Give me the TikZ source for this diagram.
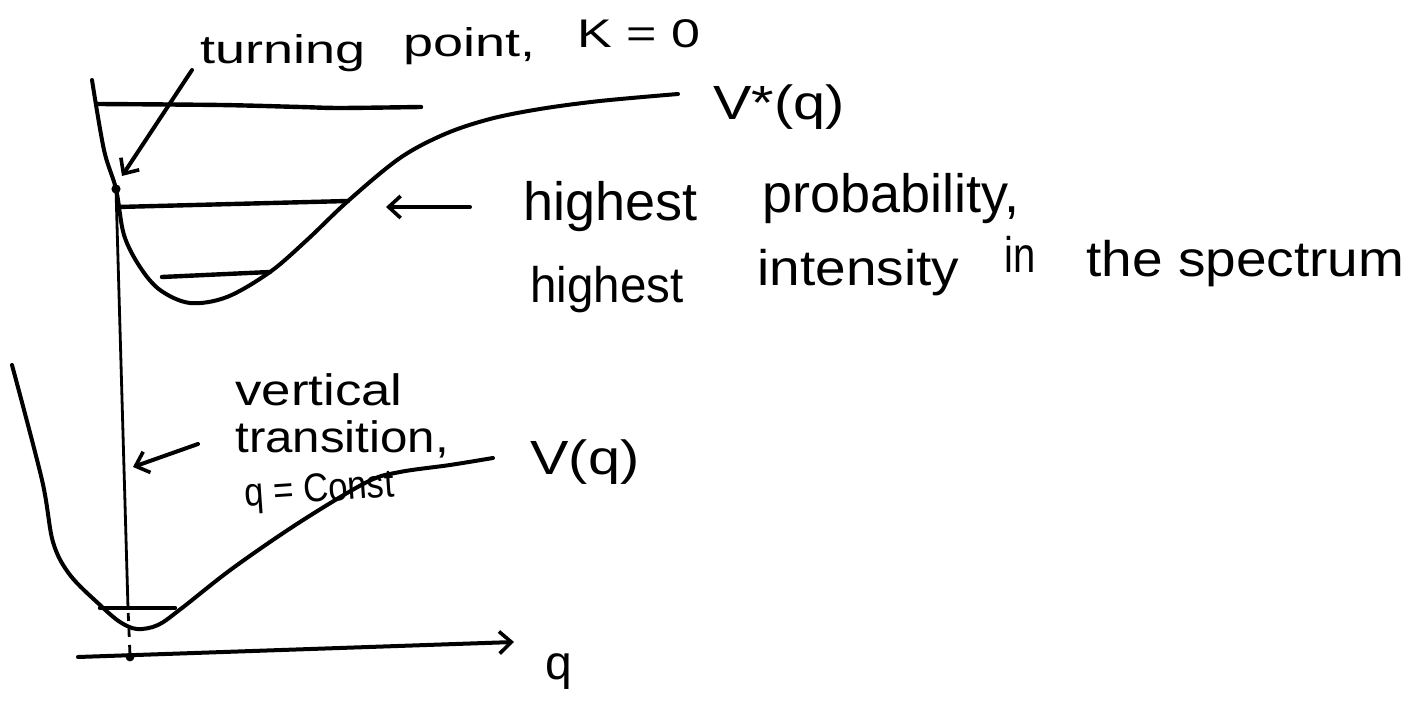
\documentclass[tikz,border=0pt]{standalone}
\usepackage{graphicx}
\usepackage{fontspec}
\setmainfont{Liberation Sans}
\usetikzlibrary{arrows.meta}
\newcommand{\hwx}[2]{\scalebox{#1}[1]{#2}}
\tikzset{
  curve/.style={line width=2pt, line cap=round, line join=round},
  lvl/.style={line width=2.2pt, line cap=round},
  thinline/.style={line width=1.4pt},
  barb/.style={line width=2pt, line cap=round, -{Straight Barb[length=6pt,width=11pt,line width=1.8pt]}},
  lbl/.style={inner sep=0pt, anchor=base west},
  fA/.style={font=\fontsize{20}{24}\selectfont},
  fB/.style={font=\fontsize{27}{32}\selectfont},
  fC/.style={font=\fontsize{25}{30}\selectfont},
  fD/.style={font=\fontsize{22}{26}\selectfont},
  fE/.style={font=\fontsize{20}{24}\selectfont},
  fV/.style={font=\fontsize{24}{28}\selectfont},
}
\begin{document}
\begin{tikzpicture}[x=0.5pt,y=-0.5pt]
\useasboundingbox (0,0) rectangle (1424,705);
% excited state potential V*(q)
\draw[curve] plot[smooth,tension=0.55] coordinates {(92,80) (104,150) (116,189) (124,235) (140,267) (160,290) (190,303) (227,297) (270,272) (307,240) (348,201) (400,158) (445,134) (490,119) (540,109) (600,101) (678,94)};
% vibrational levels of V*
\draw[lvl] plot[smooth,tension=0.5] coordinates {(97,104) (220,105) (300,107) (340,108) (421,107)};
\draw[lvl] (118,207) -- (348,201);
\draw[lvl] (162,277) -- (270,272);
% turning point dot
\fill (116,189) circle (2.3pt);
% ground state potential V(q)
\draw[curve] plot[smooth,tension=0.55] coordinates {(12,365) (42,480) (53,542) (70,575) (100,605) (120,622) (137,629) (158,625) (182,608) (233,568) (300,522) (367,482) (400,472) (450,465) (493,458)};
\draw[lvl] (100,608) -- (175,608);
% vertical transition
\coordinate (vtop) at (116,189);
\coordinate (vbot) at (128,608);
\draw[thinline] (vtop) -- (vbot);
\coordinate (dtop) at (128.2,613);
\coordinate (dbot) at (130,655);
\draw[thinline, dash pattern=on 4pt off 4pt] (dtop) -- (dbot);
% q axis
\coordinate (ax0) at (78,657);
\coordinate (ax1) at (514,642);
\draw[barb] (ax0) -- (ax1);
\fill (130,657) circle (2.2pt);
% arrows
\coordinate (tpS) at (192,70);
\coordinate (tpE) at (122,176);
\draw[barb] (tpS) -- (tpE);
\coordinate (hpS) at (470,207);
\coordinate (hpE) at (386,207);
\draw[barb] (hpS) -- (hpE);
\coordinate (vtS) at (198,444);
\coordinate (vtE) at (133,467);
\draw[barb] (vtS) -- (vtE);
% labels
\node[lbl,fA] (t1) at (200,64) {\hwx{1.35}{turning}};
\node[lbl,fA] (t2) at (403,57) {\hwx{1.35}{point,}};
\node[lbl,fA] (t3) at (577,48) {\hwx{1.3}{K = 0}};
\node[lbl,fV] (vs) at (713,120) {\hwx{1.2}{V*(q)}};
\node[lbl,fB] (h1) at (523,221) {highest};
\node[lbl,fB] (p1) at (762,213) {probability,};
\node[lbl,fC] (h2) at (530,303) {\hwx{0.95}{highest}};
\node[lbl,fC] (i2) at (757,286) {\hwx{1.1}{intensity}};
\node[lbl,fC] (in2) at (1004,273) {\hwx{0.8}{in}};
\node[lbl,fC] (sp2) at (1086,277) {\hwx{1.1}{the spectrum}};
\node[lbl,fD] (v1) at (235,406) {\hwx{1.2}{vertical}};
\node[lbl,fD] (v2) at (235,452) {\hwx{1.12}{transition,}};
\node[lbl,fE,rotate=4] (qc) at (245,507) {\hwx{0.87}{q = Const}};
\node[lbl,fV] (vq) at (530,474) {\hwx{1.2}{V(q)}};
\node[lbl,fV] (qa) at (545,679) {q};
\end{tikzpicture}
\end{document}
